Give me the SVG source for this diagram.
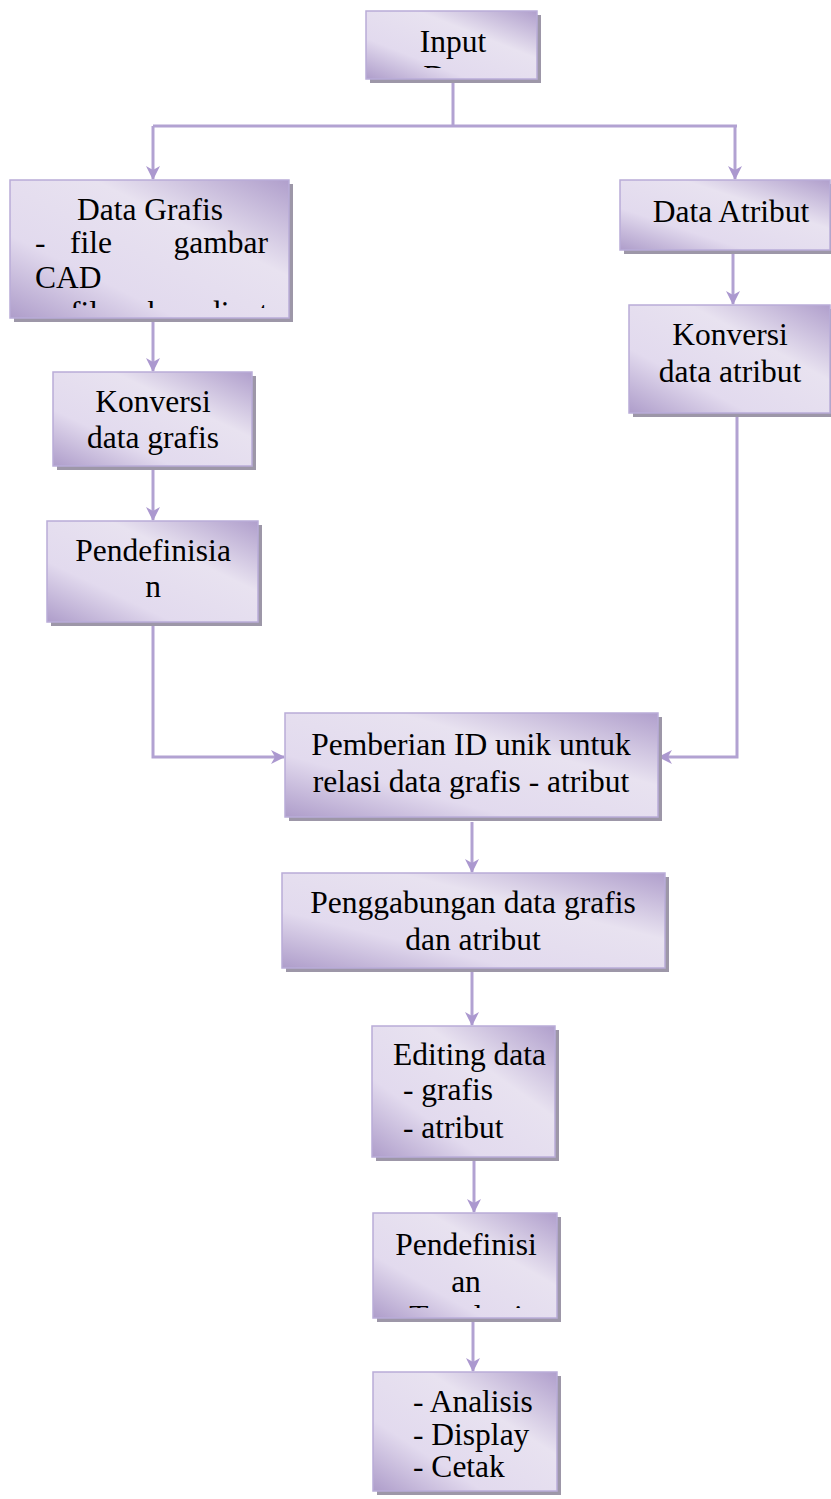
<svg xmlns="http://www.w3.org/2000/svg" width="831" height="1499" viewBox="0 0 831 1499">
<style>
.box{fill:url(#g);stroke:#b9acd8;stroke-width:1.5}
.sh{fill:#9d97a8}
.t{font-family:"Liberation Serif","Times New Roman",serif;font-size:31.5px;fill:#000}
.c{text-anchor:middle}
.ln{fill:none;stroke:#b2a2d2;stroke-width:3}
.arr{marker-end:url(#ah)}
</style>
<defs>
<linearGradient id="g" x1="0" y1="1" x2="1" y2="0">
<stop offset="0" stop-color="#ae9dca"/>
<stop offset="0.3" stop-color="#e2daee"/>
<stop offset="0.65" stop-color="#e8e2f0"/>
<stop offset="1" stop-color="#b09fcc"/>
</linearGradient>
<marker id="ah" viewBox="0 0 14 14" refX="13" refY="7" markerWidth="14" markerHeight="14" markerUnits="userSpaceOnUse" orient="auto">
<path d="M0,0 L14,7 L0,14 L4,7 z" fill="#ab98cf"/>
</marker>
<clipPath id="cInput"><rect x="366" y="11" width="171" height="57"/></clipPath>
<clipPath id="cGrafis"><rect x="10" y="180" width="279" height="128"/></clipPath>
<clipPath id="cTopo"><rect x="373" y="1213" width="184" height="95"/></clipPath>
</defs>

<g id="connectors">
<path class="ln" d="M453,83 V126 M153,126 H737"/>
<path class="ln arr" d="M153,126 V179"/>
<path class="ln arr" d="M735,126 V179"/>
<path class="ln arr" d="M153,322 V371"/>
<path class="ln arr" d="M153,470 V520"/>
<path class="ln arr" d="M153,626 V757 H284"/>
<path class="ln arr" d="M733,254 V304"/>
<path class="ln arr" d="M737,417 V757 H659"/>
<path class="ln arr" d="M472,822 V872"/>
<path class="ln arr" d="M472,972 V1025"/>
<path class="ln arr" d="M474,1161 V1212"/>
<path class="ln arr" d="M473,1322 V1371"/>
</g>

<g id="node-input">
<rect class="sh" x="370" y="15" width="171" height="68"/>
<rect class="box" x="366" y="11" width="171" height="68"/>
<g clip-path="url(#cInput)">
<text class="t c" x="453" y="52">Input</text>
<text class="t c" x="453" y="87">Data</text>
</g>
</g>

<g id="node-data-grafis">
<rect class="sh" x="14" y="184" width="279" height="138"/>
<rect class="box" x="10" y="180" width="279" height="138"/>
<g clip-path="url(#cGrafis)">
<text class="t c" x="150" y="220">Data Grafis</text>
<text class="t" x="35" y="253">-</text>
<text class="t" x="70" y="253">file</text>
<text class="t" x="268" y="253" text-anchor="end">gambar</text>
<text class="t" x="35" y="288">CAD</text>
<text class="t" x="35" y="323">-</text>
<text class="t" x="70" y="323">file</text>
<text class="t" x="268" y="323" text-anchor="end">koordinat</text>
</g>
</g>

<g id="node-data-atribut">
<rect class="sh" x="624" y="184" width="210" height="70"/>
<rect class="box" x="620" y="180" width="210" height="70"/>
<text class="t c" x="731" y="222">Data Atribut</text>
</g>

<g id="node-konversi-grafis">
<rect class="sh" x="57" y="376" width="199" height="94"/>
<rect class="box" x="53" y="372" width="199" height="94"/>
<text class="t c" x="153" y="412">Konversi</text>
<text class="t c" x="153" y="448">data grafis</text>
</g>

<g id="node-konversi-atribut">
<rect class="sh" x="633" y="309" width="201" height="108"/>
<rect class="box" x="629" y="305" width="201" height="108"/>
<text class="t c" x="730" y="345">Konversi</text>
<text class="t c" x="730" y="382">data atribut</text>
</g>

<g id="node-pendefinisian">
<rect class="sh" x="51" y="525" width="211" height="101"/>
<rect class="box" x="47" y="521" width="211" height="101"/>
<text class="t c" x="153" y="561">Pendefinisia</text>
<text class="t c" x="153" y="597">n</text>
</g>

<g id="node-pemberian-id">
<rect class="sh" x="289" y="717" width="373" height="104"/>
<rect class="box" x="285" y="713" width="373" height="104"/>
<text class="t c" x="471" y="755">Pemberian ID unik untuk</text>
<text class="t c" x="471" y="792">relasi data grafis - atribut</text>
</g>

<g id="node-penggabungan">
<rect class="sh" x="286" y="877" width="383" height="95"/>
<rect class="box" x="282" y="873" width="383" height="95"/>
<text class="t c" x="473" y="913">Penggabungan data grafis</text>
<text class="t c" x="473" y="950">dan atribut</text>
</g>

<g id="node-editing">
<rect class="sh" x="376" y="1030" width="183" height="131"/>
<rect class="box" x="372" y="1026" width="183" height="131"/>
<text class="t" x="393" y="1065">Editing data</text>
<text class="t" x="403" y="1100">- grafis</text>
<text class="t" x="403" y="1138">- atribut</text>
</g>

<g id="node-pendefinisian-topologi">
<rect class="sh" x="377" y="1217" width="184" height="105"/>
<rect class="box" x="373" y="1213" width="184" height="105"/>
<g clip-path="url(#cTopo)">
<text class="t c" x="466" y="1255">Pendefinisi</text>
<text class="t c" x="466" y="1292">an</text>
<text class="t c" x="466" y="1327">Topologi</text>
</g>
</g>

<g id="node-output">
<rect class="sh" x="377" y="1376" width="184" height="119"/>
<rect class="box" x="373" y="1372" width="184" height="119"/>
<text class="t" x="413" y="1412">- Analisis</text>
<text class="t" x="413" y="1445">- Display</text>
<text class="t" x="413" y="1477">- Cetak</text>
</g>
</svg>
